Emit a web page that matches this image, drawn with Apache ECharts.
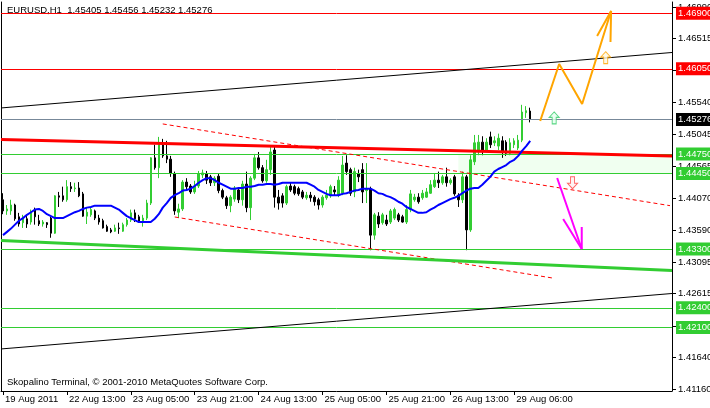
<!DOCTYPE html>
<html><head><meta charset="utf-8">
<script src="https://cdn.jsdelivr.net/npm/echarts@6/dist/echarts.min.js"></script>
<style>html,body{margin:0;padding:0;background:#fff}#c{width:710px;height:408px}</style>
</head><body><div id="c"></div>
<script>
// ---- data ----
const symbolTitle = 'EURUSD,H1';
const tickLabels = ['19 Aug 2011','22 Aug 13:00','23 Aug 05:00','23 Aug 21:00','24 Aug 13:00','25 Aug 05:00','25 Aug 21:00','26 Aug 13:00','29 Aug 06:00'];
const slotCount = 168;
const opens = [1.4405,1.4388,1.4388,1.4397,1.4379,1.4370,1.4376,1.4371,1.4390,1.4373,1.4368,1.4370,1.4377,1.4354,1.4411,1.4411,1.4405,1.4425,1.4422,1.4423,
1.4414,1.4380,1.4382,1.4388,1.4377,1.4373,1.4364,1.4359,1.4357,1.4362,1.4357,1.4367,1.4374,1.4385,1.4379,1.4371,1.4377,1.4400,1.4469,1.4454,
1.4492,1.4472,1.4467,1.4445,1.4386,1.4391,1.4432,1.4426,1.4417,1.4426,1.4443,1.4445,1.4440,1.4431,1.4441,1.4419,1.4408,1.4396,1.4406,1.4420,
1.4405,1.4429,1.4393,1.4438,1.4469,1.4454,1.4434,1.4451,1.4481,1.4409,1.4411,1.4400,1.4426,1.4425,1.4422,1.4417,1.4408,1.4412,1.4409,1.4405,
1.4397,1.4408,1.4411,1.4420,1.4412,1.4415,1.4461,1.4451,1.4417,1.4445,1.4451,1.4419,1.4422,1.4351,1.4380,1.4370,1.4374,1.4371,1.4377,1.4382,
1.4379,1.4371,1.4390,1.4405,1.4409,1.4408,1.4409,1.4415,1.4425,1.4435,1.4431,1.4440,1.4431,1.4440,1.4412,1.4405,1.4440,1.4359,1.4463,1.4478,
1.4493,1.4481,1.4501,1.4492,1.4487,1.4495,1.4493,1.4476,1.4489,1.4484,1.4496,1.4538,1.45405];
const closes = [1.4388,1.4391,1.4397,1.4376,1.4368,1.4377,1.4368,1.4386,1.4379,1.4368,1.4371,1.4367,1.4354,1.4411,1.4409,1.4405,1.4425,1.4422,1.4423,1.4411,
1.4380,1.4386,1.4390,1.4377,1.4371,1.4362,1.4357,1.4356,1.4362,1.4361,1.4367,1.4374,1.4385,1.4376,1.4371,1.4377,1.4400,1.4469,1.4454,1.4492,
1.4472,1.4467,1.4445,1.4388,1.4391,1.4432,1.4425,1.4417,1.4426,1.4445,1.4446,1.4435,1.4431,1.4438,1.4419,1.4409,1.4396,1.4409,1.4423,1.4405,
1.4429,1.4393,1.4438,1.4469,1.4454,1.4434,1.4451,1.4478,1.4409,1.4400,1.4400,1.4425,1.4420,1.4415,1.4414,1.4409,1.4412,1.4408,1.4402,1.4397,
1.4409,1.4412,1.4425,1.4417,1.4435,1.4458,1.4448,1.4415,1.4448,1.4440,1.4417,1.4422,1.4351,1.4382,1.4368,1.4382,1.4368,1.4388,1.4390,1.4374,
1.4371,1.4390,1.4414,1.4409,1.4402,1.4415,1.4417,1.4428,1.4435,1.4431,1.4440,1.4431,1.4435,1.4414,1.4405,1.4440,1.4359,1.4466,1.4492,1.4493,
1.4481,1.4493,1.4489,1.4495,1.4499,1.4478,1.4476,1.4492,1.4495,1.4496,1.4539,1.4541,1.45276];
const lows = [1.4383,1.4382,1.4382,1.4373,1.4364,1.4362,1.4362,1.4367,1.4367,1.4365,1.4364,1.4362,1.4347,1.4353,1.4394,1.4402,1.4402,1.4417,1.4417,1.4409,
1.4379,1.4368,1.4379,1.4374,1.4367,1.4361,1.4356,1.4354,1.4356,1.4353,1.4356,1.4364,1.4371,1.4371,1.4370,1.4364,1.4374,1.4397,1.4451,1.4438,
1.4469,1.4461,1.4440,1.4382,1.4377,1.4388,1.4420,1.4414,1.4414,1.4423,1.4438,1.4429,1.4426,1.4426,1.4415,1.4406,1.4391,1.4386,1.4402,1.4400,
1.4396,1.4386,1.4374,1.4435,1.4451,1.4431,1.4431,1.4443,1.4393,1.4390,1.4393,1.4397,1.4417,1.4412,1.4411,1.4406,1.4405,1.4402,1.4396,1.4390,
1.4393,1.4405,1.4408,1.4412,1.4409,1.4412,1.4443,1.4411,1.4409,1.4432,1.4400,1.4400,1.4328,1.4344,1.4362,1.4367,1.4365,1.4368,1.4374,1.4371,
1.4370,1.4368,1.4386,1.4402,1.4399,1.4405,1.4408,1.4414,1.4423,1.4423,1.4428,1.4425,1.4428,1.4411,1.4394,1.4400,1.4328,1.4356,1.4458,1.4473,
1.4473,1.4478,1.4484,1.4487,1.4481,1.4469,1.4472,1.4473,1.4484,1.4481,1.4493,1.4530,1.45232];
const highs = [1.4415,1.4397,1.4405,1.4399,1.4385,1.4382,1.4382,1.4390,1.4393,1.4382,1.4374,1.4371,1.4379,1.4412,1.4417,1.4425,1.4435,1.4432,1.4431,1.4432,
1.4417,1.4393,1.4393,1.4390,1.4382,1.4376,1.4367,1.4362,1.4367,1.4370,1.4370,1.4377,1.4390,1.4390,1.4382,1.4382,1.4405,1.4470,1.4489,1.4501,
1.4498,1.4495,1.4472,1.4448,1.4399,1.4435,1.4438,1.4429,1.4434,1.4449,1.4451,1.4449,1.4443,1.4441,1.4445,1.4422,1.4411,1.4412,1.4426,1.4423,
1.4434,1.4448,1.4441,1.4475,1.4478,1.4458,1.4466,1.4486,1.4486,1.4420,1.4415,1.4428,1.4431,1.4428,1.4425,1.4420,1.4417,1.4417,1.4412,1.4408,
1.4412,1.4420,1.4428,1.4426,1.4441,1.4472,1.4473,1.4454,1.4454,1.4451,1.4461,1.4461,1.4425,1.4385,1.4386,1.4385,1.4382,1.4391,1.4393,1.4385,
1.4382,1.4397,1.4420,1.4414,1.4415,1.4420,1.4423,1.4435,1.4445,1.4448,1.4443,1.4454,1.4438,1.4443,1.4415,1.4448,1.4443,1.4473,1.4504,1.4504,
1.4502,1.4499,1.4509,1.4502,1.4506,1.4502,1.4496,1.4499,1.4499,1.4504,1.4550,1.4548,1.45456];
const maValues = [1.4351,1.4356,1.4361,1.4367,1.4373,1.4377,1.4382,1.4386,1.4390,1.4391,1.4388,1.4383,1.4380,1.4377,1.4377,1.4377,1.4380,1.4383,1.4386,1.4388,
1.4391,1.4393,1.4394,1.4396,1.4396,1.4396,1.4396,1.4396,1.4393,1.4390,1.4385,1.4380,1.4377,1.4374,1.4371,1.4371,1.4371,1.4371,1.4376,1.4383,
1.4393,1.4400,1.4408,1.4412,1.4415,1.4419,1.4420,1.4422,1.4426,1.4431,1.4435,1.4438,1.4438,1.4435,1.4431,1.4428,1.4425,1.4422,1.4422,1.4423,
1.4423,1.4425,1.4425,1.4426,1.4428,1.4428,1.4429,1.4429,1.4428,1.4429,1.4431,1.4431,1.4431,1.4431,1.4431,1.4431,1.4431,1.4428,1.4425,1.4420,
1.4417,1.4414,1.4412,1.4412,1.4412,1.4414,1.4415,1.4417,1.4419,1.4420,1.4422,1.4422,1.4422,1.4419,1.4415,1.4414,1.4411,1.4409,1.4406,1.4402,
1.4399,1.4394,1.4391,1.4388,1.4385,1.4385,1.4386,1.4390,1.4393,1.4397,1.4400,1.4403,1.4406,1.4408,1.4411,1.4415,1.4419,1.4422,1.4423,1.4423,
1.4428,1.4434,1.4440,1.4448,1.4452,1.4455,1.4458,1.4463,1.4466,1.4472,1.4480,1.4487,1.4495];
const yTicks = [1.41160,1.41640,1.42120,1.42615,1.43095,1.43590,1.44070,1.44565,1.45045,1.45540,1.46030,1.46515,1.46990];
const yMin = 1.4113, yMax = 1.4707;
const redLevels = [1.46900, 1.46050];
const greenLevels = [1.44750, 1.44450, 1.43300, 1.42400, 1.42100];
const lastPrice = 1.45276;
const zoneLevels = [1.44450, 1.44750];
const zoneStartBar = 114;
const upperBlackLine = [[-0.5, 1.45452], [167.5, 1.46299]];
const lowerBlackLine = [[-0.5, 1.41772], [167.5, 1.42619]];
const redThickLine = [[-0.5, 1.44971], [167.5, 1.44719]];
const greenThickLine = [[-0.5, 1.43429], [167.5, 1.42970]];
const redDashUpper = [[40, 1.45208], [167, 1.43960]];
const redDashLower = [[43, 1.43787], [137.5, 1.42856]];
const orangePath = [[134.5, 1.45253], [139.25, 1.46124], [145, 1.45513], [152.25, 1.46933]];
const orangeHead = [[148.75, 1.46551], [152.25, 1.46933], [152.1, 1.46460]];
const magentaPath = [[138.75, 1.44383], [144.9, 1.43299]];
const magentaHead = [[140.25, 1.43757], [144.9, 1.43299], [144.9, 1.43635]];
const upArrowGreen = [138, 1.4530];
const upArrowOrange = [150.9, 1.4622];
const downArrowRed = [142.6, 1.4431];

// ---- build ----
const FONT = '"Liberation Sans", Arial, sans-serif';
const FS = 9.5;
const cats = [];
for (let i = 0; i < slotCount; i++) cats.push(String(i));
const candleData = opens.map((o, i) => [o, closes[i], lows[i], highs[i]]);
const GREEN = '#32cd32', RED = '#ff0000';
const LABEL_STEP = 16;
const isLabelled = idx => idx % LABEL_STEP === 0 && idx / LABEL_STEP < tickLabels.length;

function lvl(v, lineColor, bg, width) {
  return {yAxis: v, lineStyle: {color: lineColor, width: width || 1, type: 'solid'},
    label: {show: true, position: 'end', distance: 4, formatter: v.toFixed(5), color: '#fff',
      backgroundColor: bg, padding: [2, 4, 1, 2], fontSize: FS, fontFamily: FONT}};
}
const levelLines = [];
redLevels.forEach(v => levelLines.push(lvl(v, RED, RED)));
greenLevels.forEach(v => levelLines.push(lvl(v, GREEN, GREEN)));
levelLines.push(lvl(lastPrice, '#778899', '#000'));

function seg(data, color, width, type, z) {
  return {type: 'line', xAxisIndex: 1, yAxisIndex: 0, data: data, symbol: 'none', silent: true,
    lineStyle: {color: color, width: width, type: type || 'solid'}, z: z || 6, clip: true};
}
const ARROW = 'path://M5,0L10,5L7,5L7,11L3,11L3,5L0,5Z';

const option = {
  animation: false,
  backgroundColor: '#fff',
  grid: {left: 1, right: 38, top: 2, bottom: 17, containLabel: false, outerBoundsMode: 'none'},
  xAxis: [
    {type: 'category', data: cats, boundaryGap: true,
      axisLine: {onZero: false, lineStyle: {color: '#000', width: 1}},
      axisTick: {show: true, alignWithLabel: true, interval: isLabelled, length: 4, lineStyle: {color: '#000'}},
      axisLabel: {interval: isLabelled, align: 'left', margin: 3, color: '#000', fontSize: FS, fontFamily: FONT,
        padding: [0, 0, 0, 2], hideOverlap: false,
        formatter: (v, idx) => isLabelled(idx) ? tickLabels[idx / LABEL_STEP] : ''},
      splitLine: {show: false}},
    {type: 'value', min: -0.5, max: slotCount - 0.5, show: false}
  ],
  yAxis: [
    {type: 'value', position: 'right', min: yMin, max: yMax,
      axisLine: {show: true, onZero: false, lineStyle: {color: '#000'}},
      axisTick: {show: true, customValues: yTicks, length: 4, lineStyle: {color: '#000'}},
      axisLabel: {customValues: yTicks, formatter: v => v.toFixed(5), color: '#000', fontSize: FS, fontFamily: FONT, margin: 6},
      splitLine: {show: false}},
    {type: 'value', position: 'left', min: yMin, max: yMax,
      axisLine: {show: true, onZero: false, lineStyle: {color: '#000'}},
      axisTick: {show: false}, axisLabel: {show: false}, splitLine: {show: false}}
  ],
  graphic: [
    {type: 'text', left: 7, top: 5, z: 0, style: {text: symbolTitle + '  ' + [opens[132], highs[132], lows[132], closes[132]].map(v => v.toFixed(5)).join(' '),
      fill: '#000', font: FS + 'px ' + FONT}},
    {type: 'text', left: 7, top: 377, z: 0, style: {text: 'Skopalino Terminal, \u00a9 2001-2010 MetaQuotes Software Corp.', fill: '#000', font: FS + 'px ' + FONT}}
  ],
  series: [
    {type: 'line', xAxisIndex: 1, yAxisIndex: 0, data: [], z: 0, silent: true,
      markArea: {silent: true, itemStyle: {color: '#f0fff0'},
        data: [[{xAxis: zoneStartBar, yAxis: zoneLevels[1]}, {xAxis: slotCount - 0.5, yAxis: zoneLevels[0]}]]}},
    {type: 'candlestick', xAxisIndex: 0, yAxisIndex: 0, data: candleData, barWidth: 2, z: 2,
      itemStyle: {color: GREEN, color0: '#000', borderColor: GREEN, borderColor0: '#000', borderWidth: 1}},
    seg(upperBlackLine, '#000', 1),
    seg(lowerBlackLine, '#000', 1),
    seg(redDashUpper, RED, 1, [4, 3]),
    seg(redDashLower, RED, 1, [4, 3]),
    {type: 'line', xAxisIndex: 1, yAxisIndex: 0, data: [], z: 5, silent: true,
      markLine: {silent: true, precision: 5, symbol: ['none', 'none'], data: levelLines}},
    seg(redThickLine, RED, 3, 'solid', 7),
    seg(greenThickLine, GREEN, 3, 'solid', 7),
    {type: 'line', xAxisIndex: 0, yAxisIndex: 0, data: maValues, symbol: 'none', silent: true,
      lineStyle: {color: '#0000ff', width: 2}, z: 8},
    seg(orangePath, '#ffa500', 2, 'solid', 9),
    seg(orangeHead, '#ffa500', 2, 'solid', 9),
    seg(magentaPath, '#ff00ff', 2, 'solid', 9),
    seg(magentaHead, '#ff00ff', 2, 'solid', 9),
    {type: 'scatter', xAxisIndex: 1, yAxisIndex: 0, silent: true, z: 10, symbol: ARROW, symbolSize: [10, 12],
      data: [
        {value: upArrowGreen, itemStyle: {color: '#e6fff0', borderColor: '#33cc66', borderWidth: 1}},
        {value: upArrowOrange, itemStyle: {color: '#fff8e0', borderColor: '#ffa500', borderWidth: 1}},
        {value: downArrowRed, symbolRotate: 180, itemStyle: {color: '#fff0f0', borderColor: '#ff4040', borderWidth: 1}}
      ]}
  ]
};
const chart = echarts.init(document.getElementById('c'), null, {renderer: 'canvas'});
chart.setOption(option);
</script>
</body></html>
